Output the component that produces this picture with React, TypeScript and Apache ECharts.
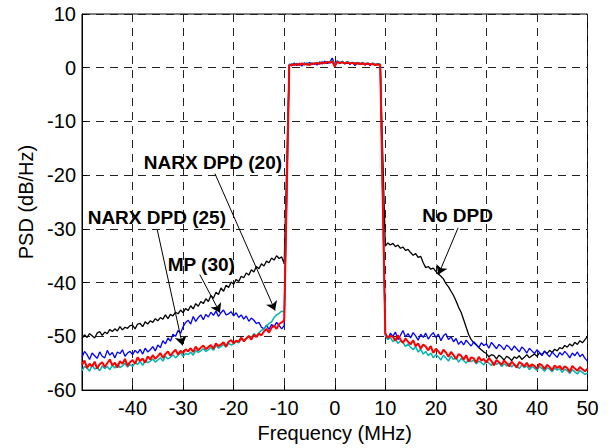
import React, { useEffect, useRef } from "react";
import * as echarts from "echarts";

// Frequency grid (MHz): left sideband -50..-10, in-band -9..9, right sideband 10..50, step 0.5
const leftStart = -50;
const bandStart = -9;
const rightStart = 10;
const step = 0.5;

const xTicks = [-50, -40, -30, -20, -10, 0, 10, 20, 30, 40, 50];
const yTicks = [-60, -50, -40, -30, -20, -10, 0, 10];

const seriesNames = ["No DPD", "MP (30)", "NARX DPD (20)", "NARX DPD (25)"];

// No DPD (black)
const noDpdLeft = [
  -50.4, -49.7, -50.2, -49.5, -49.9, -50.3, -49.4, -49.1, -49.8, -49.2,
  -49.5, -48.7, -49.1, -48.6, -49.0, -48.2, -48.8, -48.3, -48.5, -48.0,
  -47.9, -48.6, -47.7, -47.6, -48.2, -47.3, -47.7, -47.1, -47.4, -46.7,
  -47.1, -46.5, -46.8, -46.0, -46.7, -45.9, -46.2, -45.5, -45.8, -45.1,
  -45.6, -44.8, -45.2, -44.3, -44.9, -43.9, -44.4, -43.5, -43.9, -43.0,
  -43.5, -42.4, -42.9, -41.8, -42.2, -41.0, -41.6, -40.5, -40.9, -39.9,
  -40.3, -39.4, -39.8, -38.8, -39.1, -38.2, -38.6, -37.6, -38.0, -37.0,
  -37.4, -36.5, -36.9, -36.0, -36.3, -35.4, -35.8, -35.0, -35.5, -35.2,
  -36.5,
];
const noDpdBand = [
  0.5, 0.6, 0.7, 0.6, 0.8, 0.7, 0.8, 0.6, 0.7, 0.8,
  0.7, 0.9, 0.8, 0.9, 1.0, 0.9, 1.1, 1.0, 0.6, 1.0,
  0.9, 1.0, 0.9, 0.8, 0.9, 0.8, 0.9, 0.7, 0.8, 0.7,
  0.8, 0.7, 0.6, 0.7, 0.6, 0.7, 0.6,
];
const noDpdRight = [
  -33.2, -32.6, -33.0, -32.7, -33.3, -33.0, -33.6, -33.4, -34.0, -33.8,
  -34.4, -34.9, -34.6, -35.3, -35.1, -36.3, -37.2, -37.0, -37.5, -37.3,
  -37.9, -38.4, -38.8, -39.3, -40.2, -40.8, -41.6, -42.4, -43.4, -44.6,
  -45.5, -46.9, -48.3, -49.7, -50.6, -51.2, -51.6, -52.1, -52.5, -52.9,
  -53.2, -53.8, -53.4, -53.6, -54.2, -53.5, -53.9, -54.4, -53.7, -54.0,
  -54.5, -53.8, -54.1, -53.6, -54.3, -53.9, -53.4, -54.0, -53.6, -53.3,
  -53.7, -53.1, -53.4, -52.8, -53.2, -52.6, -53.0, -52.4, -52.7, -52.1,
  -52.3, -51.7, -52.0, -51.4, -51.8, -51.1, -51.5, -50.8, -51.2, -50.6,
  -50.0,
];

// MP (30) (blue)
const mpLeft = [
  -53.9, -52.8, -53.4, -54.3, -53.1, -53.6, -54.1, -52.9, -53.7, -54.0,
  -52.6, -53.5, -53.0, -54.0, -52.9, -53.2, -52.5, -53.7, -53.1, -52.8,
  -53.4, -52.6, -53.1, -52.4, -53.3, -52.2, -52.9, -52.5, -51.9, -52.7,
  -51.6, -52.1, -50.8, -51.4, -50.3, -50.9, -49.6, -50.0, -48.9, -49.4,
  -48.2, -47.4, -47.0, -47.7, -46.3, -47.2, -46.5, -46.0, -46.9, -45.9,
  -46.4, -45.5, -46.1, -45.3, -46.3, -45.6, -45.1, -46.0, -45.8, -45.4,
  -46.2, -45.6, -46.5, -46.0, -46.8, -46.2, -47.2, -46.6, -47.0, -47.6,
  -47.4, -48.3, -48.6, -47.9, -48.7, -47.8, -48.2, -47.4, -48.0, -48.6,
  -48.0,
];
const mpBand = [
  0.7, 0.3, 0.9, 0.4, 0.8, 0.3, 0.9, 0.5, 1.0, 0.6,
  0.9, 0.5, 1.1, 0.7, 1.2, 0.8, 1.0, 1.8, 0.6, 1.3,
  0.8, 1.2, 0.7, 1.1, 0.6, 1.0, 0.4, 0.9, 0.6, 1.0,
  0.5, 0.8, 0.4, 0.9, 0.5, 0.7, 0.6,
];
const mpRight = [
  -49.7, -50.5, -49.4, -50.0, -49.2, -50.6, -49.8, -48.9, -50.1, -49.5,
  -50.3, -49.3, -49.9, -50.7, -49.6, -50.2, -49.4, -50.5, -49.8, -49.3,
  -50.2, -49.6, -50.8, -49.9, -49.5, -50.6, -50.1, -51.0, -50.4, -51.5,
  -50.9, -51.6, -50.7, -51.3, -51.8, -51.0, -51.5, -52.1, -51.2, -51.7,
  -51.4, -52.2, -51.1, -51.7, -52.3, -51.5, -51.9, -52.5, -51.6, -52.0,
  -52.6, -51.8, -52.3, -52.9, -52.0, -52.4, -53.1, -52.2, -52.7, -53.2,
  -52.5, -53.0, -53.6, -52.7, -53.3, -53.8, -52.9, -53.4, -53.9, -53.0,
  -53.5, -52.8, -53.3, -54.0, -53.1, -53.6, -52.9, -53.8, -53.3, -54.1,
  -54.6,
];

// NARX DPD (20) (cyan)
const narx20Left = [
  -56.4, -55.6, -55.9, -56.5, -55.3, -56.1, -55.8, -56.4, -55.5, -56.0,
  -55.6, -56.2, -55.4, -55.9, -55.1, -55.8, -55.5, -55.0, -55.7, -55.2,
  -55.6, -54.9, -55.2, -54.7, -55.4, -54.5, -54.9, -54.6, -54.2, -54.8,
  -54.4, -54.0, -54.6, -53.7, -54.2, -53.9, -53.4, -54.0, -53.5, -53.1,
  -53.7, -53.2, -53.4, -52.9, -53.5, -52.6, -53.0, -52.7, -52.3, -52.8,
  -52.5, -52.1, -52.6, -51.7, -52.2, -51.9, -51.5, -52.0, -51.3, -51.6,
  -51.4, -51.0, -51.2, -50.5, -50.9, -50.4, -50.0, -50.3, -49.5, -49.9,
  -49.3, -48.9, -48.6, -48.1, -47.6, -47.3, -46.5, -46.0, -45.7, -45.3,
  -45.5,
];
const narx20Band = [
  0.5, 0.7, 0.6, 0.8, 0.6, 0.7, 0.7, 0.9, 0.6, 0.8,
  0.8, 1.0, 0.8, 1.1, 0.9, 1.0, 1.0, 1.3, 0.5, 1.2,
  1.0, 1.1, 0.9, 1.2, 0.9, 1.0, 0.8, 1.0, 0.8, 0.9,
  0.7, 0.9, 0.7, 0.8, 0.6, 0.7, 0.6,
];
const narx20Right = [
  -49.9, -50.6, -50.2, -51.0, -50.5, -51.3, -50.9, -51.1, -51.9, -51.4,
  -52.0, -52.5, -51.9, -52.9, -52.4, -53.3, -52.8, -53.6, -53.1, -54.0,
  -53.4, -53.8, -54.4, -53.5, -54.0, -54.6, -53.7, -54.3, -53.9, -54.8,
  -54.1, -54.5, -55.0, -54.2, -54.7, -54.4, -55.1, -54.6, -54.9, -55.3,
  -54.5, -55.0, -55.4, -54.8, -55.2, -54.9, -55.6, -55.1, -55.5, -55.0,
  -55.7, -55.2, -55.5, -56.0, -55.3, -55.8, -55.5, -56.2, -55.6, -55.9,
  -56.3, -55.6, -56.0, -56.5, -55.8, -56.1, -56.6, -55.9, -56.3, -56.0,
  -56.7, -56.1, -56.4, -56.9, -56.2, -56.6, -57.0, -56.3, -56.7, -57.1,
  -56.8,
];

// NARX DPD (25) (red)
const narx25Left = [
  -55.3, -54.5, -55.9, -55.1, -55.6, -54.7, -56.0, -55.2, -54.8, -55.7,
  -55.0, -54.3, -55.4, -54.9, -55.8, -54.6, -55.1, -54.2, -55.5, -54.8,
  -54.4, -55.1, -53.9, -54.6, -54.1, -54.9, -53.7, -54.3, -53.5, -54.2,
  -53.7, -53.1, -54.0, -53.3, -52.8, -53.6, -53.0, -52.5, -53.4, -52.7,
  -53.1, -52.4, -52.8, -52.2, -52.9, -51.9, -52.6, -52.1, -51.7, -52.4,
  -52.0, -51.6, -52.3, -51.3, -51.8, -51.5, -51.1, -51.9, -51.0, -50.7,
  -51.3, -50.8, -51.0, -50.2, -50.9, -50.4, -49.9, -50.6, -49.7, -50.1,
  -49.5, -49.8, -49.1, -48.6, -49.3, -48.4, -48.0, -48.6, -47.7, -47.4,
  -47.0,
];
const narx25Band = [
  0.4, 0.6, 0.5, 0.7, 0.5, 0.8, 0.6, 0.7, 0.5, 0.8,
  0.7, 0.9, 0.7, 1.0, 0.8, 1.1, 0.9, 1.2, 0.2, 1.1,
  0.9, 1.0, 0.8, 1.0, 0.8, 0.9, 0.7, 0.9, 0.7, 0.8,
  0.6, 0.8, 0.6, 0.7, 0.5, 0.6, 0.5,
];
const narx25Right = [
  -49.4, -50.3, -49.9, -50.1, -50.8, -49.8, -50.6, -51.2, -50.4, -51.0,
  -51.5, -50.7, -51.8, -51.3, -52.3, -51.5, -51.9, -52.6, -51.8, -53.1,
  -52.3, -52.8, -53.4, -52.5, -53.0, -53.8, -52.9, -53.5, -54.2, -53.3,
  -53.6, -54.3, -53.5, -54.7, -53.9, -54.1, -54.9, -53.8, -54.5, -54.2,
  -54.9, -54.0, -54.6, -55.4, -54.4, -54.8, -55.3, -54.5, -55.0, -55.6,
  -54.7, -55.2, -55.8, -54.8, -55.1, -55.6, -54.9, -55.7, -55.2, -55.5,
  -56.0, -55.1, -55.4, -56.1, -55.3, -55.7, -56.3, -55.4, -55.9, -55.5,
  -56.2, -55.6, -55.9, -56.6, -55.5, -56.0, -56.4, -55.7, -56.1, -56.5,
  -56.0,
];

// Annotations (data coordinates: MHz, dB/Hz)
const annotationLabels = ["NARX DPD (20)", "NARX DPD (25)", "MP (30)", "No DPD"];
const labelAnchors = [
  [-24.1, -17.6],
  [-35.2, -27.8],
  [-26.4, -36.6],
  [24.3, -27.5],
];
const arrowStarts = [
  [-23.7, -19.7],
  [-35.1, -30.2],
  [-26.7, -38.5],
  [24.4, -29.8],
];
const arrowTips = [
  [-11.8, -45.2],
  [-30.1, -51.7],
  [-22.7, -45.6],
  [20.5, -38.5],
];

function build(left: number[], band: number[], right: number[]) {
  const pts: number[][] = [];
  left.forEach((v, i) => pts.push([leftStart + i * step, v]));
  band.forEach((v, i) => pts.push([bandStart + i * step, v]));
  right.forEach((v, i) => pts.push([rightStart + i * step, v]));
  return pts;
}

const FONT = "'Liberation Sans', Arial, Helvetica, sans-serif";

export default function App() {
  const ref = useRef<HTMLDivElement>(null);
  useEffect(() => {
    if (!ref.current) return;
    const chart = echarts.init(ref.current, undefined, { renderer: "svg" });
    const colors = ["#000000", "#0000ff", "#00b4b4", "#ff0000"];
    const widths = [1.3, 1.3, 1.5, 2];
    const datasets = [
      build(noDpdLeft, noDpdBand, noDpdRight),
      build(mpLeft, mpBand, mpRight),
      build(narx20Left, narx20Band, narx20Right),
      build(narx25Left, narx25Band, narx25Right),
    ];
    const series: any[] = datasets.map((d, i) => ({
      name: seriesNames[i],
      type: "line",
      data: d,
      showSymbol: false,
      symbol: "none",
      color: colors[i],
      lineStyle: { color: colors[i], width: widths[i] },
      z: 2 + i,
      silent: true,
    }));
    series.push({
      name: "annotations",
      type: "line",
      data: [],
      z: 10,
      silent: true,
      markLine: {
        silent: true,
        symbol: ["none", "arrow"],
        symbolSize: 9,
        animation: false,
        label: { show: false },
        lineStyle: { color: "#000", width: 1, type: "solid" },
        data: arrowStarts.map((s, i) => [
          { coord: s },
          { coord: arrowTips[i] },
        ]),
      },
      markPoint: {
        silent: true,
        symbol: "rect",
        symbolSize: 1,
        itemStyle: { color: "rgba(0,0,0,0)" },
        label: {
          show: true,
          position: "inside",
          color: "#000",
          fontSize: 19,
          fontWeight: "bold",
          fontFamily: FONT,
          formatter: (p: any) => p.name,
        },
        data: annotationLabels.map((t, i) => ({ name: t, coord: labelAnchors[i] })),
      },
    });
    const gridLine = { show: true, lineStyle: { color: "#222", type: [8, 6], width: 1 } };
    chart.setOption({
      animation: false,
      backgroundColor: "#ffffff",
      grid: {
        left: 82,
        right: 27.5,
        top: 14,
        bottom: 56,
        show: true,
        borderColor: "#000",
        borderWidth: 1,
        containLabel: false,
      },
      xAxis: {
        type: "value",
        min: xTicks[0],
        max: xTicks[xTicks.length - 1],
        interval: 10,
        name: "Frequency (MHz)",
        nameLocation: "middle",
        nameGap: 30,
        nameTextStyle: { color: "#000", fontSize: 20, fontFamily: FONT },
        axisLine: { show: true, onZero: false, lineStyle: { color: "#000", width: 1 } },
        axisTick: { show: true, inside: true, length: 5, lineStyle: { color: "#000" } },
        axisLabel: {
          color: "#000",
          fontSize: 20,
          fontFamily: FONT,
          margin: 8,
          formatter: (v: number) => (v === xTicks[0] ? "" : String(v)),
        },
        splitLine: gridLine,
      },
      yAxis: {
        type: "value",
        min: yTicks[0],
        max: yTicks[yTicks.length - 1],
        interval: 10,
        name: "PSD (dB/Hz)",
        nameLocation: "middle",
        nameRotate: 90,
        nameGap: 44,
        nameTextStyle: { color: "#000", fontSize: 20, fontFamily: FONT },
        axisLine: { show: true, onZero: false, lineStyle: { color: "#000", width: 1 } },
        axisTick: { show: true, inside: true, length: 5, lineStyle: { color: "#000" } },
        axisLabel: { color: "#000", fontSize: 20, fontFamily: FONT, margin: 6 },
        splitLine: gridLine,
      },
      series,
    });
    return () => chart.dispose();
  }, []);
  return (
    <div
      ref={ref}
      style={{ position: "fixed", left: 0, top: 0, width: 615, height: 448, background: "#fff" }}
    />
  );
}
